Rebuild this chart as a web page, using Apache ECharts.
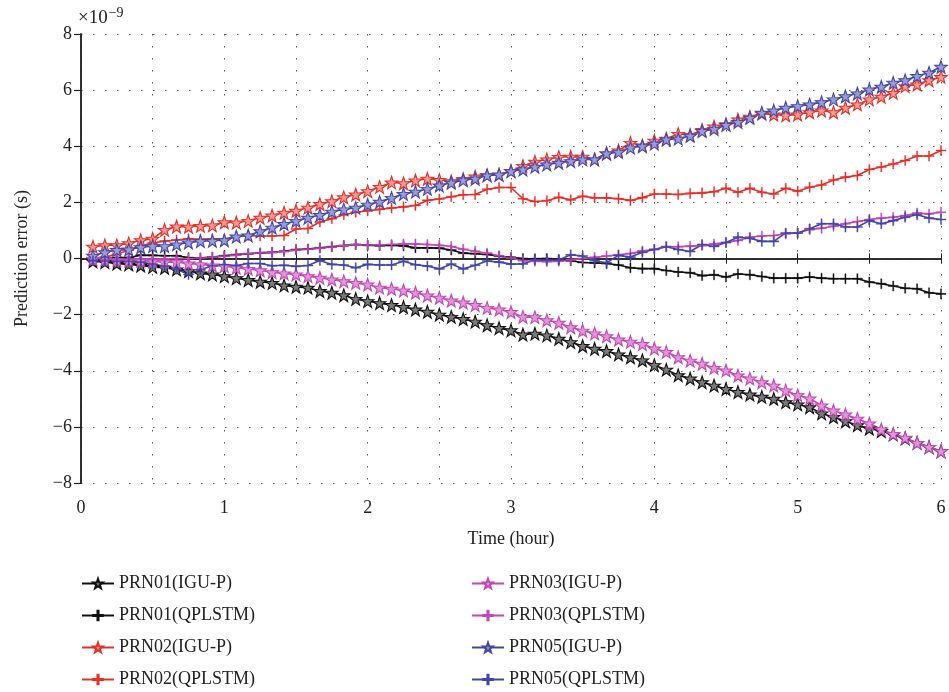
<!DOCTYPE html>
<html>
<head>
<meta charset="utf-8">
<script src="https://cdn.jsdelivr.net/npm/echarts@6/dist/echarts.min.js"></script>
<style>
html,body{margin:0;padding:0;background:#fff;}
#chart{width:949px;height:692px;}
</style>
</head>
<body>
<div id="chart"></div>
<script>
// time of each epoch in minutes
const minutes = [5,10,15,20,25,30,35,40,45,50,55,60,65,70,75,80,85,90,95,100,105,110,115,120,
125,130,135,140,145,150,155,160,165,170,175,180,185,190,195,200,205,210,215,220,225,230,235,240,
245,250,255,260,265,270,275,280,285,290,295,300,305,310,315,320,325,330,335,340,345,350,355,360];

const xTicks = [0,1,2,3,4,5,6];
const yTicks = [-8,-6,-4,-2,0,2,4,6,8];

const prn01_igu = [-0.1,-0.13,-0.18,-0.21,-0.25,-0.3,-0.33,-0.39,-0.45,-0.53,
-0.57,-0.63,-0.7,-0.77,-0.83,-0.87,-0.96,-1.01,-1.04,-1.16,
-1.22,-1.31,-1.44,-1.52,-1.59,-1.66,-1.73,-1.82,-1.9,-2.0,
-2.08,-2.16,-2.25,-2.38,-2.48,-2.56,-2.71,-2.68,-2.74,-2.86,
-2.98,-3.12,-3.22,-3.3,-3.42,-3.52,-3.63,-3.8,-3.96,-4.16,
-4.28,-4.41,-4.53,-4.65,-4.76,-4.85,-4.93,-5.0,-5.12,-5.2,
-5.3,-5.52,-5.65,-5.8,-5.94,-6.06,-6.15,-6.27,-6.41,-6.57,
-6.72,-6.87];

const prn01_qpl = [0.0,0.02,0.03,0.03,0.12,0.11,0.1,0.1,0.03,0.02,
0.05,0.1,0.14,0.17,0.2,0.22,0.26,0.32,0.34,0.38,
0.42,0.46,0.5,0.47,0.46,0.47,0.45,0.38,0.38,0.37,
0.3,0.19,0.17,0.14,0.08,0.04,0.0,-0.01,0.0,-0.04,
-0.08,-0.14,-0.16,-0.18,-0.23,-0.33,-0.36,-0.36,-0.43,-0.48,
-0.51,-0.61,-0.58,-0.66,-0.55,-0.58,-0.64,-0.7,-0.7,-0.7,
-0.66,-0.7,-0.72,-0.72,-0.72,-0.84,-0.9,-0.98,-1.06,-1.08,
-1.22,-1.26];

const prn02_igu = [0.42,0.47,0.47,0.54,0.65,0.7,1.02,1.14,1.13,1.16,
1.18,1.29,1.28,1.34,1.45,1.53,1.63,1.7,1.81,1.94,
2.04,2.18,2.28,2.4,2.55,2.71,2.68,2.78,2.84,2.8,
2.75,2.83,2.92,2.97,2.98,3.12,3.3,3.45,3.53,3.62,
3.63,3.63,3.53,3.74,3.85,4.12,4.03,4.2,4.27,4.44,
4.4,4.58,4.7,4.78,4.95,5.05,5.16,5.13,5.1,5.13,
5.21,5.27,5.21,5.37,5.49,5.67,5.76,5.9,6.14,6.2,
6.35,6.47];

const prn02_qpl = [0.0,0.05,0.15,0.3,0.45,0.55,0.62,0.66,0.7,0.68,
0.7,0.69,0.8,0.82,0.8,0.8,0.82,1.05,1.07,1.3,
1.42,1.56,1.65,1.7,1.75,1.8,1.84,1.89,2.07,2.12,
2.2,2.27,2.28,2.47,2.53,2.53,2.13,2.03,2.06,2.18,
2.09,2.22,2.16,2.16,2.13,2.07,2.17,2.3,2.3,2.28,
2.32,2.34,2.38,2.5,2.36,2.5,2.36,2.3,2.5,2.4,
2.54,2.62,2.8,2.9,2.96,3.17,3.26,3.37,3.49,3.65,
3.65,3.85];

const prn03_igu = [-0.01,-0.03,-0.06,-0.07,-0.08,-0.1,-0.13,-0.13,-0.18,-0.21,
-0.25,-0.27,-0.33,-0.37,-0.42,-0.49,-0.53,-0.57,-0.63,-0.69,
-0.75,-0.81,-0.87,-0.93,-1.04,-1.08,-1.14,-1.22,-1.32,-1.4,
-1.5,-1.57,-1.66,-1.76,-1.82,-1.91,-2.08,-2.09,-2.2,-2.29,
-2.45,-2.57,-2.67,-2.77,-2.89,-2.97,-3.05,-3.21,-3.33,-3.52,
-3.64,-3.75,-3.9,-3.99,-4.17,-4.28,-4.41,-4.53,-4.7,-4.87,
-4.99,-5.24,-5.42,-5.56,-5.71,-5.88,-6.09,-6.25,-6.39,-6.57,
-6.72,-6.87];

const prn03_qpl = [-0.05,-0.05,-0.05,-0.03,-0.02,-0.02,-0.02,0.0,0.0,0.02,
0.05,0.08,0.12,0.17,0.2,0.22,0.25,0.3,0.33,0.37,
0.41,0.46,0.5,0.48,0.48,0.5,0.52,0.52,0.5,0.47,
0.43,0.33,0.26,0.19,0.1,0.02,-0.08,-0.1,-0.11,-0.1,
-0.05,0.0,0.04,0.09,0.13,0.18,0.27,0.33,0.42,0.42,
0.44,0.46,0.52,0.57,0.64,0.76,0.8,0.82,0.88,0.91,
1.03,1.08,1.15,1.24,1.32,1.39,1.44,1.47,1.53,1.62,
1.59,1.65];

const prn05_igu = [0.1,0.22,0.3,0.32,0.4,0.44,0.44,0.5,0.57,0.62,
0.63,0.65,0.78,0.82,0.97,1.1,1.23,1.34,1.45,1.55,
1.67,1.75,1.81,1.92,2.02,2.16,2.3,2.38,2.48,2.6,
2.7,2.79,2.84,2.96,2.99,3.11,3.17,3.27,3.35,3.41,
3.47,3.53,3.53,3.74,3.79,3.95,4.0,4.09,4.24,4.27,
4.37,4.54,4.61,4.76,4.86,5.01,5.19,5.27,5.37,5.43,
5.49,5.57,5.67,5.78,5.88,6.02,6.12,6.26,6.35,6.5,
6.62,6.83];

const prn05_qpl = [-0.08,-0.09,-0.1,-0.1,-0.13,-0.2,-0.27,-0.38,-0.57,-0.4,
-0.26,-0.22,-0.25,-0.18,-0.18,-0.26,-0.24,-0.28,-0.25,-0.07,
-0.21,-0.23,-0.33,-0.21,-0.23,-0.23,-0.1,-0.22,-0.27,-0.37,
-0.2,-0.37,-0.24,-0.09,-0.13,-0.2,-0.19,-0.05,-0.06,-0.05,
0.13,0.09,-0.08,-0.15,0.11,0.05,0.22,0.32,0.42,0.32,
0.25,0.5,0.43,0.57,0.76,0.72,0.61,0.61,0.91,0.91,
1.06,1.24,1.24,1.12,1.12,1.35,1.24,1.35,1.47,1.56,
1.44,1.39];

const STAR = 'path://M10,0L12.35,6.76L19.51,6.91L13.8,11.24L15.88,18.09L10,14L4.12,18.09L6.2,11.24L0.49,6.91L7.65,6.76Z';
const PLUS = 'path://M0,4.45H10V5.55H0Z M4.45,0H5.55V10H4.45Z';

const FONT = '"Liberation Serif","DejaVu Serif",serif';

const C = {
  black: {line:'#111111', fill:'#7a7a7a'},
  red:   {line:'#e5302a', fill:'#f29a92'},
  mag:   {line:'#c446b8', fill:'#e096d8'},
  blue:  {line:'#4346a8', fill:'#9a9cd6'}
};

function pairs(vals){ return vals.map((v,i)=>[minutes[i]/60, v]); }

function mk(name, vals, col, star){
  return {
    name: name, type:'line', data: pairs(vals),
    symbol: star ? STAR : PLUS,
    symbolSize: star ? 12.5 : 10,
    showAllSymbol: true,
    lineStyle: {color: col.line, width: 1.6},
    itemStyle: star ? {color: col.fill, borderColor: col.line, borderWidth: 1.1}
                    : {color: col.line, borderColor: col.line, borderWidth: 0.4},
    emphasis: {disabled: true},
    animation: false,
    z: 2
  };
}

const series = [
  mk('PRN01(IGU-P)', prn01_igu, C.black, true),
  mk('PRN01(QPLSTM)', prn01_qpl, C.black, false),
  mk('PRN02(IGU-P)', prn02_igu, C.red, true),
  mk('PRN02(QPLSTM)', prn02_qpl, C.red, false),
  mk('PRN03(IGU-P)', prn03_igu, C.mag, true),
  mk('PRN03(QPLSTM)', prn03_qpl, C.mag, false),
  mk('PRN05(IGU-P)', prn05_igu, C.blue, true),
  mk('PRN05(QPLSTM)', prn05_qpl, C.blue, false)
];

const axisLine = {show:true, lineStyle:{color:'#222', width:1.5}};
const tickOut = {show:true, inside:false, length:7, lineStyle:{color:'#222', width:1.2}};
const tickIn = {show:true, inside:true, length:5, lineStyle:{color:'#222', width:1}};
const split = {show:true, lineStyle:{color:'#555', width:1, type:[1.5,10.5]}};

const legendBase = {
  orient:'vertical', itemWidth:32, itemHeight:12, itemGap:13,
  height:130, width:300,
  textStyle:{fontFamily:FONT, fontSize:18, color:'#222', lineHeight:19},
  selectedMode:false
};

const chart = echarts.init(document.getElementById('chart'), null, {renderer:'canvas'});
chart.setOption({
  backgroundColor:'#fff',
  animation:false,
  grid:{left:81, right:8, top:34, bottom:209, containLabel:false},
  xAxis:[{
    type:'value', min:0, max:6, interval:0.5,
    name:'Time (hour)', nameLocation:'middle', nameGap:47,
    nameTextStyle:{fontFamily:FONT, fontSize:18, color:'#222'},
    axisLine:axisLine, axisTick:tickIn, splitLine:split,
    axisLabel:{margin:16, fontFamily:FONT, fontSize:18, color:'#222',
      formatter:v => xTicks.includes(v) ? String(v) : ''}
  },{
    type:'value', min:0, max:6, interval:0.5, position:'top',
    axisLine:axisLine, axisTick:tickIn, splitLine:{show:false}, axisLabel:{show:false}
  }],
  yAxis:[{
    type:'value', min:-8, max:8, interval:2,
    name:'Prediction error (s)', nameLocation:'middle', nameGap:50,
    nameTextStyle:{fontFamily:FONT, fontSize:18, color:'#222'},
    axisLine:axisLine, axisTick:tickOut, splitLine:split,
    axisLabel:{margin:9, fontFamily:FONT, fontSize:18, color:'#222',
      formatter:v => yTicks.includes(v) ? String(v).replace('-', '\u2212') : ''}
  },{
    type:'value', min:-8, max:8, interval:2, position:'right',
    axisLine:axisLine, axisTick:tickIn, splitLine:{show:false}, axisLabel:{show:false}
  }],
  legend:[
    Object.assign({}, legendBase, {left:76, top:569,
      data:['PRN01(IGU-P)','PRN01(QPLSTM)','PRN02(IGU-P)','PRN02(QPLSTM)']}),
    Object.assign({}, legendBase, {left:466, top:569,
      data:['PRN03(IGU-P)','PRN03(QPLSTM)','PRN05(IGU-P)','PRN05(QPLSTM)']})
  ],
  graphic:[{
    type:'text', left:78, top:6,
    style:{
      text:'{a|×10}{b|−9}',
      rich:{
        a:{fontFamily:FONT, fontSize:19, fill:'#222', verticalAlign:'bottom'},
        b:{fontFamily:FONT, fontSize:14, fill:'#222', verticalAlign:'top', padding:[0,0,8,1]}
      }
    }
  }],
  series: series
});
</script>
</body>
</html>
